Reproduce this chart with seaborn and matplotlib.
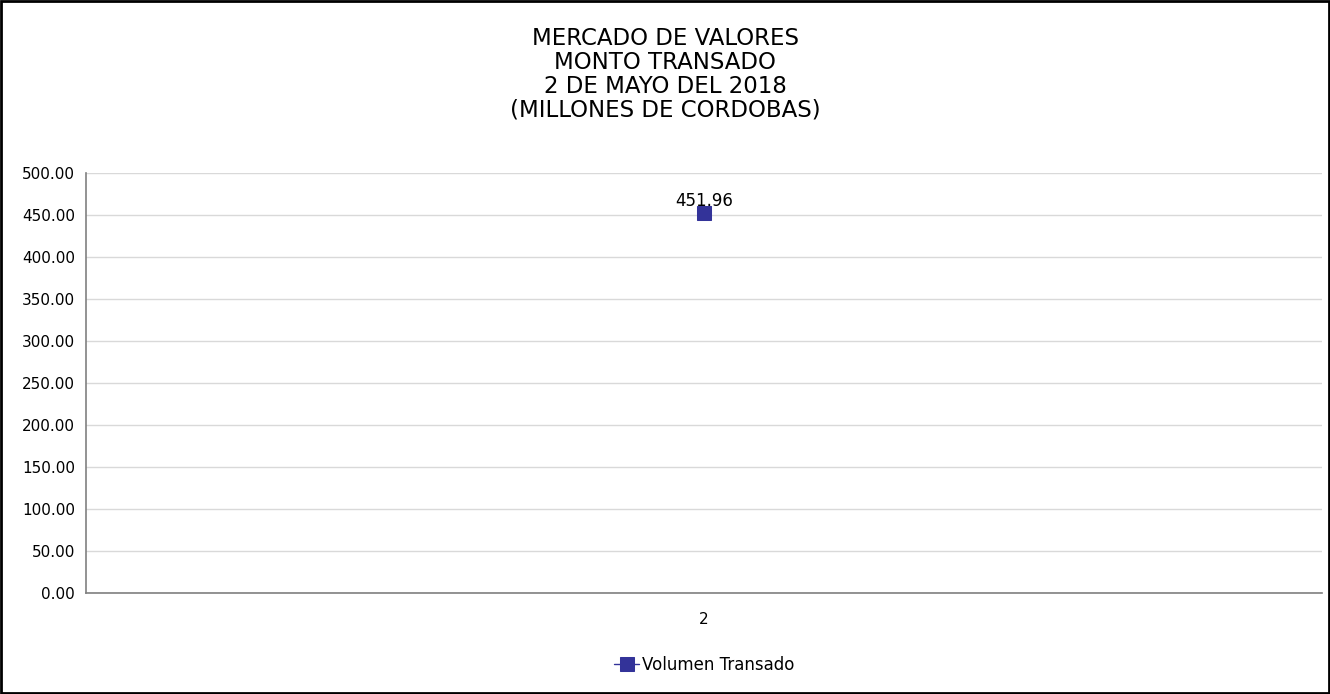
import pandas as pd
import seaborn as sns
import matplotlib.pyplot as plt
from matplotlib.patches import Rectangle

# data
dias = ["2"]
volumen = [451.96]
serie = "Volumen Transado"

df = pd.DataFrame({"dia": dias, "monto": volumen})

sns.set_style("white")
plt.rcParams['font.family'] = ['DejaVu Sans']
plt.rcParams['text.color'] = 'black'
plt.rcParams['xtick.color'] = 'black'
plt.rcParams['ytick.color'] = 'black'

fig = plt.figure(figsize=(13.3, 6.94), dpi=100)
ax = fig.add_axes([0.0647, 0.1455, 0.9293, 0.6052])

color = "#333399"
sns.lineplot(data=df, x="dia", y="monto", marker="s", markersize=10, color=color,
             markeredgecolor=color, linewidth=1, ax=ax, label=serie, zorder=3)

for x, y in zip(range(len(dias)), volumen):
    ax.text(x, y + 4, f"{y:.2f}", ha="center", va="bottom", fontsize=12)

ax.set_xlim(-0.5, 0.5)
ax.set_ylim(0, 500)
ax.set_yticks(range(0, 501, 50))
ax.set_yticklabels([f"{v:.2f}" for v in range(0, 501, 50)], fontsize=11)
ax.tick_params(axis="x", labelsize=11, length=0, pad=14)
ax.tick_params(axis="y", length=0, pad=8)
ax.yaxis.grid(True, color="#d9d9d9", linewidth=1)
ax.set_axisbelow(True)
ax.set_xlabel("")
ax.set_ylabel("")
for s in ["top", "right"]:
    ax.spines[s].set_visible(False)
for s in ["left", "bottom"]:
    ax.spines[s].set_color("#808080")
    ax.spines[s].set_linewidth(1.2)

ax.legend(loc="upper center", bbox_to_anchor=(0.5, -0.115), frameon=False,
          fontsize=12, handletextpad=0.15, handlelength=1.5)

fig.text(0.5, 0.961, "MERCADO DE VALORES\nMONTO TRANSADO\n2 DE MAYO DEL 2018\n(MILLONES DE CORDOBAS)",
         ha="center", va="top", fontsize=16.5, linespacing=1.04)

fig.patches.append(Rectangle((0.001, 0.001), 0.998, 0.998, transform=fig.transFigure,
                             fill=False, edgecolor="black", linewidth=2))

fig.savefig("out.png", dpi=100)
